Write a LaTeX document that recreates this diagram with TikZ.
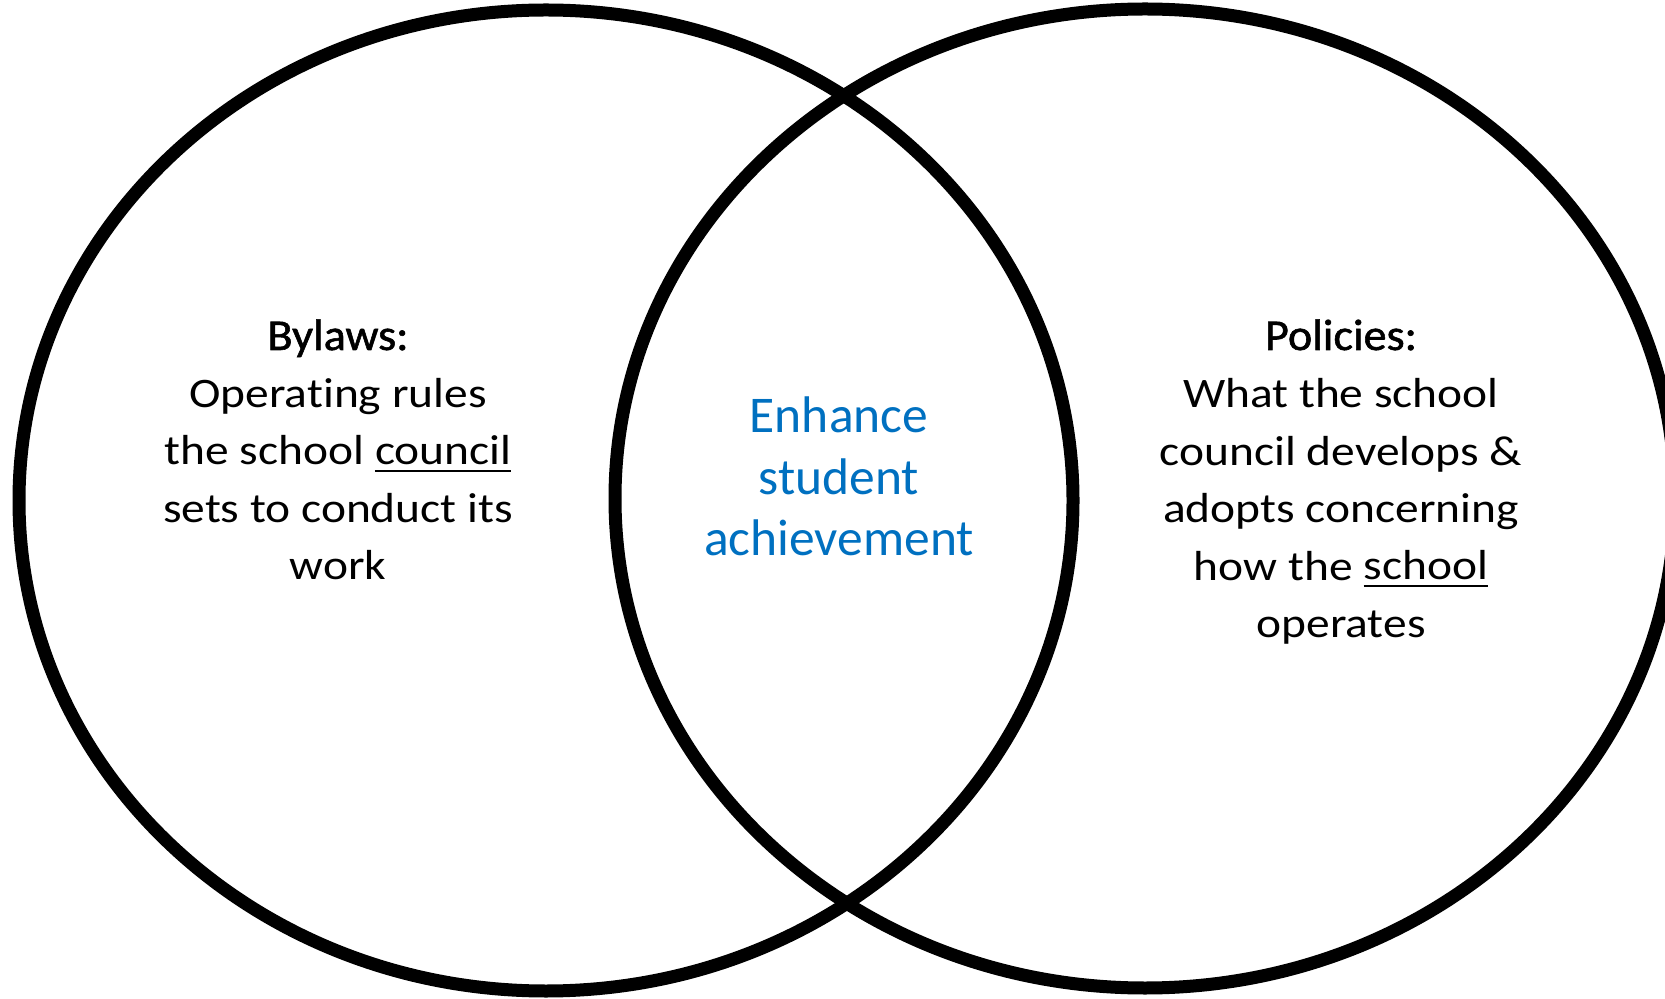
\documentclass[tikz,border=0pt]{standalone}
\usepackage{fontspec}
\setmainfont{Carlito}
\newfontfamily\bodyfont[FakeStretch=1.13,Ligatures=NoCommon]{Carlito}
\newfontfamily\headfont[FakeBold=1.3,FakeStretch=1.05,Ligatures=NoCommon]{Carlito}
\definecolor{achblue}{HTML}{0070C0}
\newcommand\myul[1]{\setbox0\hbox{#1}\rlap{\rule[-3.6pt]{\wd0}{0.9pt}}\box0}
\newcommand\headline[1]{{\fontsize{22pt}{28.75pt}\headfont #1}}
\begin{document}
\begin{tikzpicture}[x=0.5pt,y=-0.5pt,
  ring/.style={draw=black,line width=6.5pt},
  sidetext/.style={align=center,inner sep=0pt,anchor=base,font=\fontsize{21pt}{28.75pt}\bodyfont},
  midtext/.style={align=center,inner sep=0pt,anchor=base,text=achblue,font=\fontsize{25.75pt}{30.9pt}\selectfont}]
\useasboundingbox (0,0) rectangle (1665,999);
\clip (0,0) rectangle (1665,999);
\draw[ring] (546,500.5) ellipse [x radius=527, y radius=490.5];
\draw[ring] (1145,498.5) ellipse [x radius=530, y radius=489.5];
\node[sidetext] (bylaws) at (338,580) {\headline{Bylaws:}\\Operating rules\\the school \myul{council}\\sets to conduct its\\work};
\node[midtext] (enhance) at (839,556) {Enhance\\student\\achievement};
\node[sidetext] (policies) at (1341,637.5) {\headline{Policies:}\\What the school\\council develops \&\\adopts concerning\\how the \myul{school}\\operates};
\end{tikzpicture}
\end{document}
